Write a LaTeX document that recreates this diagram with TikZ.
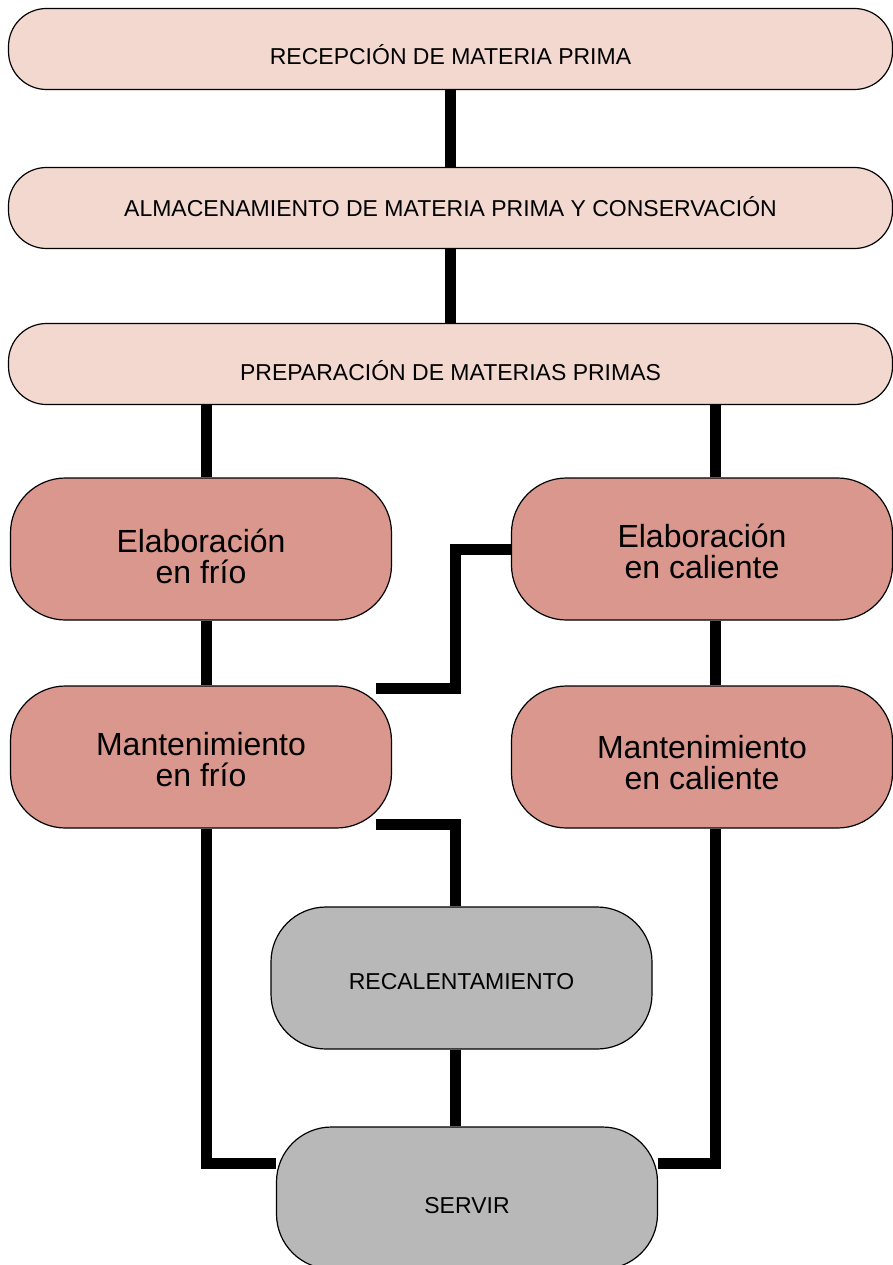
\documentclass[tikz,border=0pt]{standalone}
\usepackage{fontspec}
\setmainfont{Liberation Sans}
\usetikzlibrary{backgrounds}
\definecolor{pinklight}{RGB}{242,216,207}
\definecolor{rose}{RGB}{217,151,141}
\definecolor{greybox}{RGB}{184,184,184}
% text lines, last baseline #1 below the centre of the box
\newcommand{\boxtxt}[2]{\raisebox{-#1}[0pt][0pt]{\vbox{\lineskiplimit=-100pt\relax\halign{\hfil##\hfil\cr#2\crcr}}}}
\begin{document}
\begin{tikzpicture}[x=1pt,y=-1pt,
		stage/.style={draw,line width=1.2pt,rounded corners=38pt,fill=pinklight,minimum width=884pt,minimum height=81pt,font=\fontsize{23}{27}\selectfont},
		cell/.style={draw,line width=1.2pt,rounded corners=55pt,fill=rose,minimum width=381pt,minimum height=142pt,font=\fontsize{32}{31}\selectfont},
		greycell/.style={cell,fill=greybox,font=\fontsize{23}{27}\selectfont},
		link/.style={line width=11pt}]
		\useasboundingbox (0,0) rectangle (893,1265);
		\node[stage] (rec) at (450.5,49) {\boxtxt{16pt}{RECEPCIÓN DE MATERIA PRIMA}};
		\node[stage] (alm) at (450.5,208) {\boxtxt{9pt}{ALMACENAMIENTO DE MATERIA PRIMA Y CONSERVACIÓN}};
		\node[stage] (prep) at (450.5,364) {\boxtxt{16pt}{PREPARACIÓN DE MATERIAS PRIMAS}};
		\node[cell] (elabfrio) at (201,549) {\boxtxt{34pt}{Elaboración\cr en frío}};
		\node[cell] (elabcal) at (702,549) {\boxtxt{29pt}{Elaboración\cr en caliente}};
		\node[cell] (mantfrio) at (201,757) {\boxtxt{29pt}{Mantenimiento\cr en frío}};
		\node[cell] (mantcal) at (702,757) {\boxtxt{32pt}{Mantenimiento\cr en caliente}};
		\node[greycell] (recal) at (461.5,978) {\boxtxt{11pt}{RECALENTAMIENTO}};
		\node[greycell] (servir) at (467,1198) {\boxtxt{15pt}{SERVIR}};
		\coordinate (frioin) at (376,688);
		\coordinate (frioout) at (376,824);
		\begin{scope}[on background layer]
			\draw[link] (rec) -- (alm);
			\draw[link] (alm) -- (prep);
			\draw[link] ([xshift=5pt]elabfrio.north) -- ([xshift=5pt]elabfrio.north |- prep.south);
			\draw[link] ([xshift=13pt]elabcal.north) -- ([xshift=13pt]elabcal.north |- prep.south);
			\draw[link] ([xshift=5pt]elabfrio.south) -- ([xshift=5pt]mantfrio.north);
			\draw[link] ([xshift=13pt]elabcal.south) -- ([xshift=13pt]mantcal.north);
			\draw[link] (elabcal.west) -| ([xshift=79pt]frioin) -- (frioin);
			\draw[link] (frioout) -| ([xshift=-6pt]recal.north);
			\draw[link] ([xshift=-6pt]recal.south) -- ([xshift=-6pt]recal.south |- servir.north);
			\draw[link] ([xshift=5pt]mantfrio.south) |- ([yshift=35pt]servir.west);
			\draw[link] ([xshift=13pt]mantcal.south) |- ([yshift=35pt]servir.east);
		\end{scope}
\end{tikzpicture}
\end{document}
